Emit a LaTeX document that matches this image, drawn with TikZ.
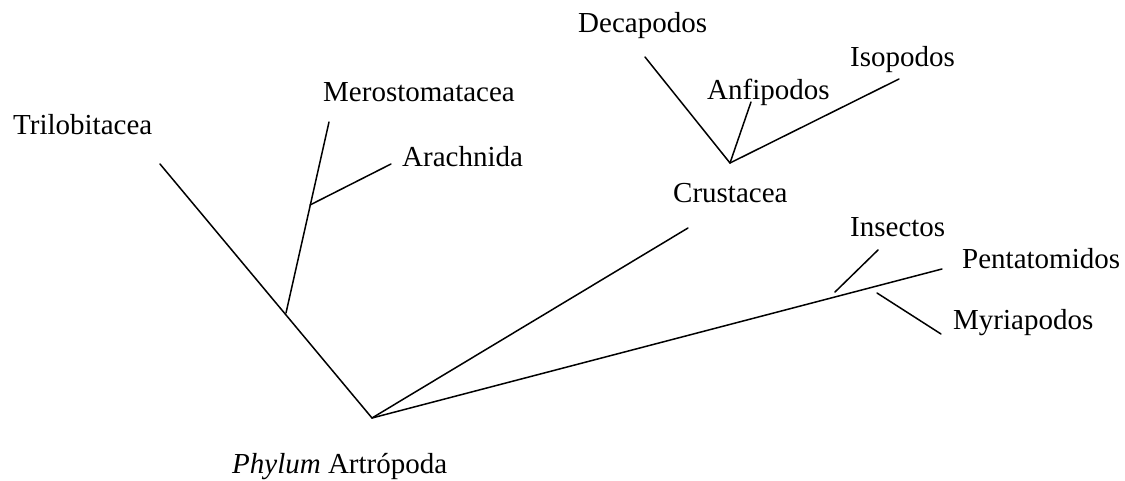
\documentclass[tikz,border=0pt]{standalone}
\usepackage{fontspec}
\setmainfont{Liberation Serif}
\begin{document}
\begin{tikzpicture}[x=1pt,y=-1pt,
  lbl/.style={anchor=base west,inner sep=0pt,font=\fontsize{29}{33}\selectfont},
  branch/.style={line width=1.5pt,line cap=round}]
\useasboundingbox (0,0) rectangle (1125,481);
% junctions and ends
\coordinate (root) at (372,418);
\coordinate (triEnd) at (160,164);
\coordinate (jMero) at (286,313);
\coordinate (meroEnd) at (329,122);
\coordinate (jArach) at (310,205);
\coordinate (arachEnd) at (391,164);
\coordinate (crusEnd) at (688,228);
\coordinate (jCrus) at (730,163);
\coordinate (decaEnd) at (645,57);
\coordinate (anfiEnd) at (751,102);
\coordinate (isoEnd) at (899,79);
\coordinate (pentEnd) at (942,269);
\coordinate (jIns) at (835,292);
\coordinate (insEnd) at (878,250);
\coordinate (jMyr) at (877,293);
\coordinate (myrEnd) at (941,334);
% branches
\draw[branch] (root) -- (triEnd);
\draw[branch] (jMero) -- (meroEnd);
\draw[branch] (jArach) -- (arachEnd);
\draw[branch] (root) -- (crusEnd);
\draw[branch] (jCrus) -- (decaEnd);
\draw[branch] (jCrus) -- (anfiEnd);
\draw[branch] (jCrus) -- (isoEnd);
\draw[branch] (root) -- (pentEnd);
\draw[branch] (jIns) -- (insEnd);
\draw[branch] (jMyr) -- (myrEnd);
% labels
\node[lbl] (tri) at (13,135) {Trilobitacea};
\node[lbl] (mero) at (323,102) {Merostomatacea};
\node[lbl] (arach) at (402,167) {Arachnida};
\node[lbl] (deca) at (578,33) {Decapodos};
\node[lbl] (anfi) at (707,100) {Anfipodos};
\node[lbl] (iso) at (850,67) {Isopodos};
\node[lbl] (crus) at (673,203) {Crustacea};
\node[lbl] (ins) at (850,237) {Insectos};
\node[lbl] (pent) at (962,269) {Pentatomidos};
\node[lbl] (myr) at (953,330) {Myriapodos};
\node[lbl] (phy) at (232,473) {\textit{Phylum} Artrópoda};
\end{tikzpicture}
\end{document}
